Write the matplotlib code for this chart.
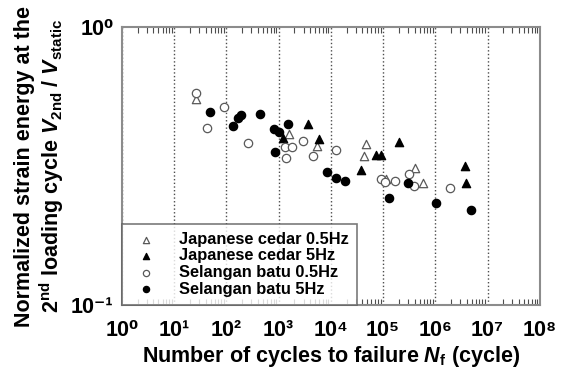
"""Normalized strain energy at the 2nd loading cycle vs. cycles to failure."""

import matplotlib
matplotlib.use("Agg")
import matplotlib.pyplot as plt
from matplotlib.ticker import LogLocator, NullFormatter, NullLocator

plt.rcParams["font.family"] = ["Liberation Sans", "DejaVu Sans"]
plt.rcParams["font.weight"] = "bold"
plt.rcParams["mathtext.fontset"] = "custom"
plt.rcParams["mathtext.rm"] = "Liberation Sans:bold"
plt.rcParams["mathtext.bf"] = "Liberation Sans:bold"
plt.rcParams["mathtext.it"] = "Liberation Sans:bold:italic"

# Japanese cedar 0.5Hz (open triangles)
jc05_n = [26, 1560, 5520, 46300, 43000, 115000, 413000, 577000]
jc05_v = [0.549, 0.411, 0.374, 0.380, 0.343, 0.283, 0.310, 0.274]

# Japanese cedar 5Hz (filled triangles)
jc5_n = [1213, 3650, 5930, 38300, 74100, 92400, 198000, 3.66e6, 3.95e6]
jc5_v = [0.398, 0.447, 0.395, 0.306, 0.347, 0.347, 0.387, 0.317, 0.274]

# Selangan batu 0.5Hz (open circles)
sb05_n = [26, 90, 42, 257, 1349, 1804, 1410, 2890, 4550, 12360,
          89600, 107000, 166000, 307000, 383000, 1.87e6]
sb05_v = [0.577, 0.514, 0.432, 0.382, 0.371, 0.369, 0.339, 0.388, 0.344, 0.360,
          0.283, 0.278, 0.279, 0.297, 0.268, 0.264]

# Selangan batu 5Hz (filled circles)
sb5_n = [48, 134, 167, 194, 435, 817, 1004, 1513, 869, 8570,
         12740, 18760, 127000, 298000, 1.01e6, 4.92e6]
sb5_v = [0.496, 0.441, 0.472, 0.483, 0.486, 0.430, 0.420, 0.447, 0.355, 0.300,
         0.286, 0.280, 0.243, 0.274, 0.232, 0.219]

x_exps = list(range(0, 9))
y_exps = [-1, 0]

SUP = str.maketrans("-0123456789", "⁻⁰¹²³⁴⁵⁶⁷⁸⁹")


def pow10_label(k):
    # plain text with superscript digits, so it keeps the bold weight
    return "10" + str(k).translate(SUP)


fig = plt.figure(figsize=(5.67, 3.71), dpi=100)
ax = fig.add_axes([0.215, 0.178, 0.737, 0.749])

ax.scatter(jc05_n, jc05_v, marker="^", s=36, facecolors="white",
           edgecolors="0.35", linewidths=0.9, label="Japanese cedar 0.5Hz", zorder=3)
ax.scatter(jc5_n, jc5_v, marker="^", s=36, facecolors="black",
           edgecolors="black", linewidths=0.9, label="Japanese cedar 5Hz", zorder=3)
ax.scatter(sb05_n, sb05_v, marker="o", s=36, facecolors="white",
           edgecolors="0.35", linewidths=0.9, label="Selangan batu 0.5Hz", zorder=3)
ax.scatter(sb5_n, sb5_v, marker="o", s=36, facecolors="black",
           edgecolors="black", linewidths=0.9, label="Selangan batu 5Hz", zorder=3)

ax.set_xscale("log")
ax.set_yscale("log")
ax.set_xlim(1, 1e8)
ax.set_ylim(0.1, 1)
ax.set_xticks([10.0 ** k for k in x_exps])
ax.set_xticklabels([pow10_label(k) for k in x_exps], fontweight="bold")
ax.set_yticks([10.0 ** k for k in y_exps])
ax.set_yticklabels([pow10_label(k) for k in y_exps], fontweight="bold")
ax.xaxis.set_minor_locator(LogLocator(base=10, subs=range(2, 10), numticks=20))
ax.xaxis.set_minor_formatter(NullFormatter())
ax.yaxis.set_minor_locator(NullLocator())

ax.tick_params(axis="x", which="major", length=0, pad=11, labelsize=15.5)
ax.tick_params(axis="x", which="minor", direction="in", length=4, width=0.8,
               top=True, bottom=True, color="0.3")
ax.tick_params(axis="y", which="major", length=0, pad=6, labelsize=15.5)

ax.grid(axis="x", which="major", linestyle=":", color="0.3", linewidth=1.0)

for sp in ax.spines.values():
    sp.set_color("0.55")
    sp.set_linewidth(1.5)

ax.set_xlabel(r"Number of cycles to failure $N_{\mathrm{f}}$ (cycle)",
              fontsize=15.5, fontweight="bold", labelpad=2)
ax.set_ylabel("Normalized strain energy at the\n"
              r"$\mathrm{2^{nd}}$ loading cycle $V_{\mathrm{2nd}}$ / $V_{\mathrm{static}}$",
              fontsize=15.5, fontweight="bold", labelpad=4, linespacing=1.1)

leg = ax.legend(loc="lower left", bbox_to_anchor=(0.0, 0.0), borderaxespad=0,
                prop={"weight": "bold", "size": 11.8}, frameon=True, fancybox=False,
                handletextpad=1.0, labelspacing=0.1, borderpad=0.5, markerscale=0.75)
leg.get_frame().set_edgecolor("0.35")
leg.get_frame().set_linewidth(1.2)

fig.savefig("out.png", dpi=100)
